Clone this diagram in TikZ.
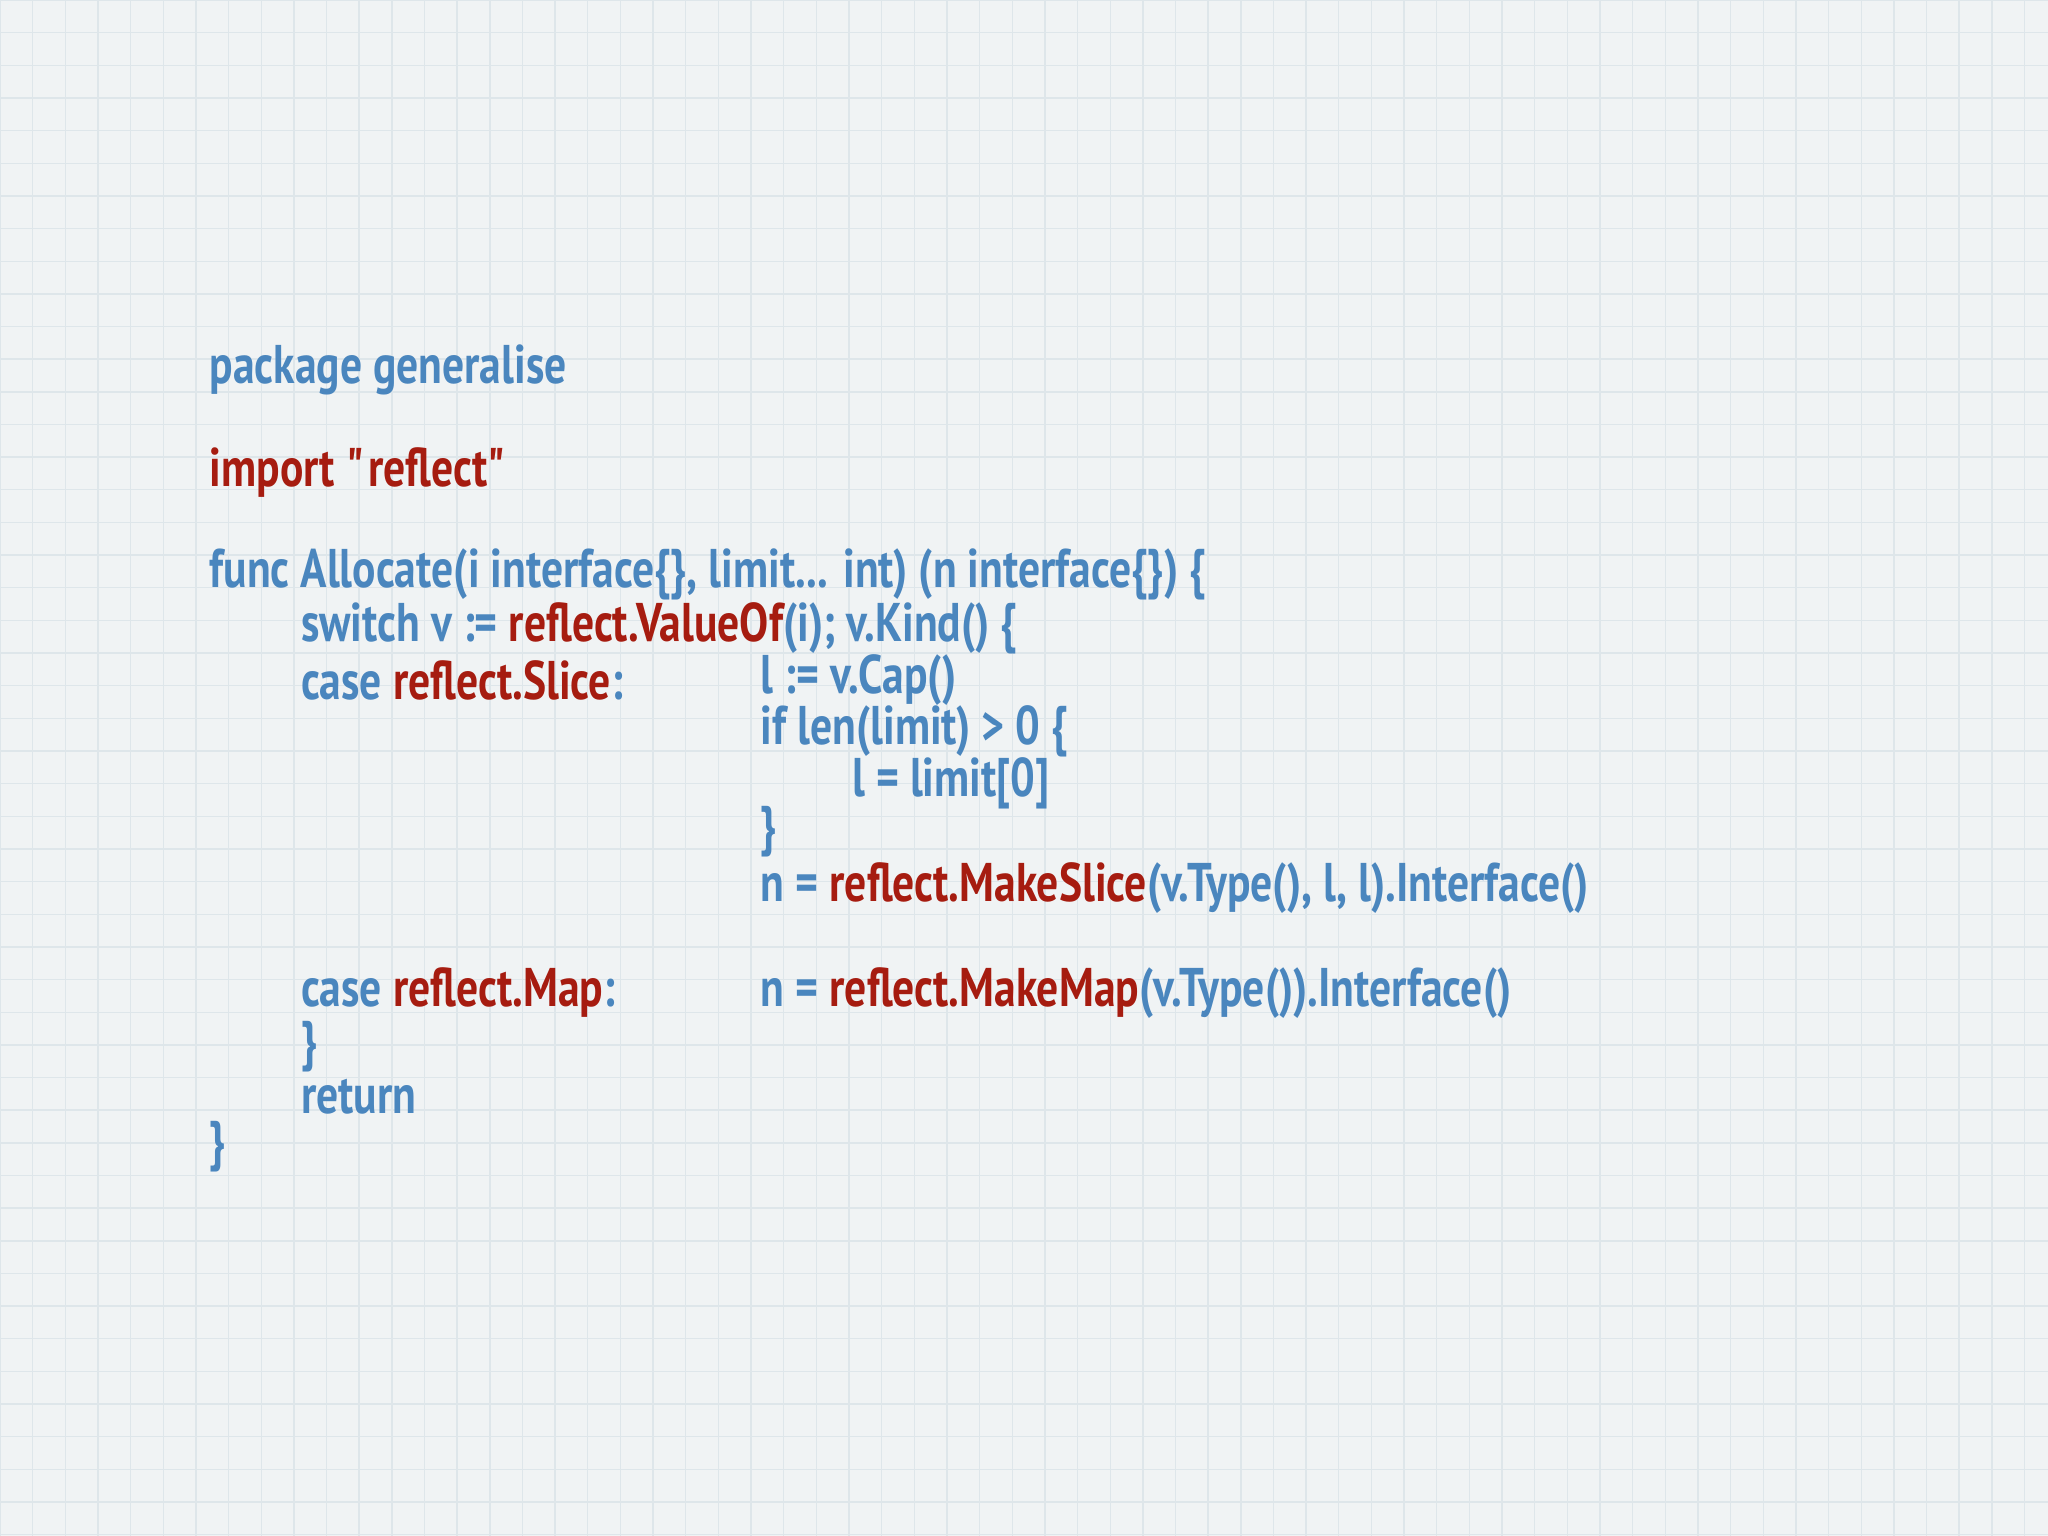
\documentclass[tikz,border=0pt]{standalone}
\usepackage{fontspec}
\setmainfont[FakeStretch=0.8,BoldFont={PT Sans Bold}]{PT Sans}
\definecolor{cb}{RGB}{74,134,190}
\definecolor{cr}{RGB}{166,28,16}
\definecolor{gl}{RGB}{222,230,234}
\definecolor{bg}{RGB}{240,243,244}
\tikzset{code/.style={anchor=west,inner sep=0pt,font=\fontsize{15.5}{18}\selectfont\bfseries,text=cb}}
\newcommand{\R}[1]{\textcolor{cr}{#1}}
\begin{document}
\begin{tikzpicture}[x=0.01306cm,y=-0.01306cm]
\fill[bg] (0,0) rectangle (1568,1176);
\useasboundingbox (0,0) rectangle (1568,1176);
\foreach \i in {0,25,...,1575} \draw[gl,line width=0.4pt] (\i,0) -- (\i,1176);
\foreach \j in {0,25,...,1175} \draw[gl,line width=0.4pt] (0,\j) -- (1568,\j);
\node[code] (l1) at (160,283) {package generalise};
\node[code] (l2) at (160,362) {\R{import \textquotedbl reflect\textquotedbl}};
\node[code] (l3) at (160,440) {func Allocate(i interface\{\}, limit... int) (n interface\{\}) \{};
\node[code] (l4) at (230,481) {switch v := \R{reflect.ValueOf}(i); v.Kind() \{};
\node[code] (l5) at (230,521) {case \R{reflect.Slice}:};
\node[code] (l5b) at (582,521) {l := v.Cap()};
\node[code] (l6) at (582,560) {if len(limit) > 0 \{};
\node[code] (l7) at (652,600) {l = limit[0]};
\node[code] (l8) at (582,637) {\}};
\node[code] (l9) at (582,680) {n = \R{reflect.MakeSlice}(v.Type(), l, l).Interface()};
\node[code] (l10) at (230,760) {case \R{reflect.Map}:};
\node[code] (l10b) at (582,760) {n = \R{reflect.MakeMap}(v.Type()).Interface()};
\node[code] (l11) at (230,801) {\}};
\node[code] (l12) at (230,840) {return};
\node[code] (l13) at (160,878) {\}};
\end{tikzpicture}
\end{document}
